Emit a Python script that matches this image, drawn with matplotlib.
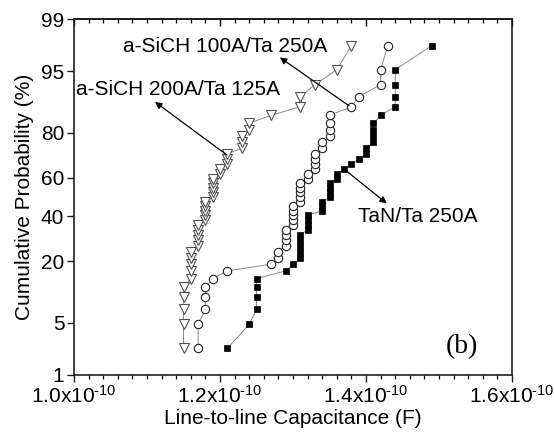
import numpy as np
import matplotlib
matplotlib.use("Agg")
import matplotlib.pyplot as plt
from matplotlib.ticker import FixedLocator, MultipleLocator, NullLocator, FuncFormatter
from statistics import NormalDist

# line-to-line capacitance, units of 1e-10 F, sorted
tri_cap = [1.15, 1.15, 1.15, 1.15, 1.15, 1.16, 1.16, 1.16, 1.16, 1.16,
           1.17, 1.17, 1.17, 1.17, 1.17, 1.18, 1.18, 1.18, 1.18, 1.18,
           1.19, 1.19, 1.19, 1.19, 1.19, 1.20, 1.20, 1.21, 1.21, 1.21,
           1.23, 1.23, 1.23, 1.24, 1.24, 1.27, 1.31, 1.31, 1.33, 1.36, 1.38]
circ_cap = [1.17, 1.17, 1.18, 1.18, 1.18, 1.19, 1.21, 1.27, 1.28, 1.28,
            1.29, 1.29, 1.29, 1.29, 1.30, 1.30, 1.30, 1.30, 1.30, 1.31,
            1.31, 1.31, 1.31, 1.31, 1.32, 1.32, 1.33, 1.33, 1.33, 1.33,
            1.34, 1.34, 1.35, 1.35, 1.35, 1.35, 1.38, 1.39, 1.42, 1.42, 1.43]
sq_cap = [1.21, 1.24, 1.25, 1.25, 1.25, 1.25, 1.29, 1.30, 1.31, 1.31,
          1.31, 1.31, 1.31, 1.32, 1.32, 1.32, 1.32, 1.34, 1.34, 1.34,
          1.35, 1.35, 1.35, 1.35, 1.36, 1.36, 1.37, 1.38, 1.39, 1.40,
          1.40, 1.41, 1.41, 1.41, 1.41, 1.42, 1.44, 1.44, 1.44, 1.44, 1.49]

# cumulative probability (%) of each ranked point
cum_prob = [2.4, 4.8, 7.1, 9.5, 11.9, 14.3, 16.7, 19.0, 21.4, 23.8,
            26.2, 28.6, 31.0, 33.3, 35.7, 38.1, 40.5, 42.9, 45.2, 47.6,
            50.0, 52.4, 54.8, 57.1, 59.5, 61.9, 64.3, 66.7, 69.0, 71.4,
            73.8, 76.2, 78.6, 81.0, 83.3, 85.7, 88.1, 90.5, 92.9, 95.2, 97.6]

y_ticks = [1, 5, 20, 40, 60, 80, 95, 99]
x_ticks = [1.0e-10, 1.2e-10, 1.4e-10, 1.6e-10]

plt.rcParams['font.family'] = ['Liberation Sans', 'DejaVu Sans']
plt.rcParams['mathtext.fontset'] = 'custom'
plt.rcParams['mathtext.rm'] = 'Liberation Sans'

_nd = NormalDist()
_ppf = np.vectorize(_nd.inv_cdf, otypes=[float])
_cdf = np.vectorize(_nd.cdf, otypes=[float])


def prob_fwd(p):
    p = np.clip(np.asarray(p, dtype=float) / 100.0, 1e-9, 1 - 1e-9)
    return _ppf(p)


def prob_inv(z):
    return _cdf(np.asarray(z, dtype=float)) * 100.0


def sci_fmt(v, pos):
    # hyphen in the exponent, like the original figure
    return r'$\mathregular{%.1fx10^{\text{-}10}}$' % (v / 1e-10)


fig = plt.figure(figsize=(5.54, 4.37), dpi=100)
ax = fig.add_subplot(111)
fig.subplots_adjust(left=0.1336, right=0.9242, bottom=0.1419, top=0.9565)

ax.set_yscale('function', functions=(prob_fwd, prob_inv))

line_kw = dict(color='#8a8a8a', lw=0.7)
ax.plot(np.array(tri_cap) * 1e-10, cum_prob, marker='v', ms=6.5, mfc='white',
        mec='#505050', mew=0.8, **line_kw)
ax.plot(np.array(circ_cap) * 1e-10, cum_prob, marker='o', ms=6, mfc='white',
        mec='#202020', mew=0.8, **line_kw)
ax.plot(np.array(sq_cap) * 1e-10, cum_prob, marker='s', ms=5, mfc='black',
        mec='black', mew=0.5, **line_kw)

ax.set_xlim(1.0e-10, 1.6e-10)
ax.set_ylim(1, 99)
ax.xaxis.set_major_locator(FixedLocator(x_ticks))
ax.xaxis.set_minor_locator(MultipleLocator(0.02e-10))
ax.xaxis.set_major_formatter(FuncFormatter(sci_fmt))
ax.yaxis.set_major_locator(FixedLocator(y_ticks))
ax.yaxis.set_major_formatter(FuncFormatter(lambda v, p: '%d' % round(v)))
ax.yaxis.set_minor_locator(NullLocator())

ax.tick_params(axis='both', which='major', labelsize=15, direction='out',
               length=5, width=1, color='#202020')
ax.tick_params(axis='x', which='minor', direction='out', length=3, width=0.9)
ax.tick_params(axis='y', which='major', pad=2)
ax.tick_params(axis='x', which='major', pad=2)

top = ax.secondary_xaxis('top')
top.xaxis.set_major_locator(FixedLocator(x_ticks))
top.xaxis.set_minor_locator(MultipleLocator(0.02e-10))
top.tick_params(which='major', direction='in', length=5, width=1, labeltop=False)
top.tick_params(which='minor', direction='in', length=3, width=0.9)
top.spines['top'].set_linewidth(1.2)

for s in ax.spines.values():
    s.set_linewidth(1.2)
    s.set_color('#202020')

ax.set_xlabel('Line-to-line Capacitance (F)', fontsize=15, labelpad=2)
ax.set_ylabel('Cumulative Probability (%)', fontsize=15, labelpad=5)

arrow_kw = dict(arrowstyle='-|>', color='black', lw=0.9, mutation_scale=10,
                shrinkA=0, shrinkB=0)
ax.annotate('', xy=(0.470, 0.892), xytext=(0.628, 0.756),
            xycoords='axes fraction', arrowprops=arrow_kw)
ax.annotate('', xy=(0.185, 0.767), xytext=(0.349, 0.618),
            xycoords='axes fraction', arrowprops=arrow_kw)
ax.annotate('', xy=(0.714, 0.482), xytext=(0.619, 0.576),
            xycoords='axes fraction', arrowprops=arrow_kw)

ax.text(0.112, 0.924, 'a-SiCH 100A/Ta 250A', transform=ax.transAxes,
        fontsize=15, ha='left', va='center')
ax.text(0.005, 0.801, 'a-SiCH 200A/Ta 125A', transform=ax.transAxes,
        fontsize=15, ha='left', va='center')
ax.text(0.648, 0.444, 'TaN/Ta 250A', transform=ax.transAxes,
        fontsize=15, ha='left', va='center')
ax.text(0.849, 0.079, '(b)', transform=ax.transAxes, fontsize=20,
        family='Liberation Serif', ha='left', va='center')

fig.savefig('out.png', dpi=100)
